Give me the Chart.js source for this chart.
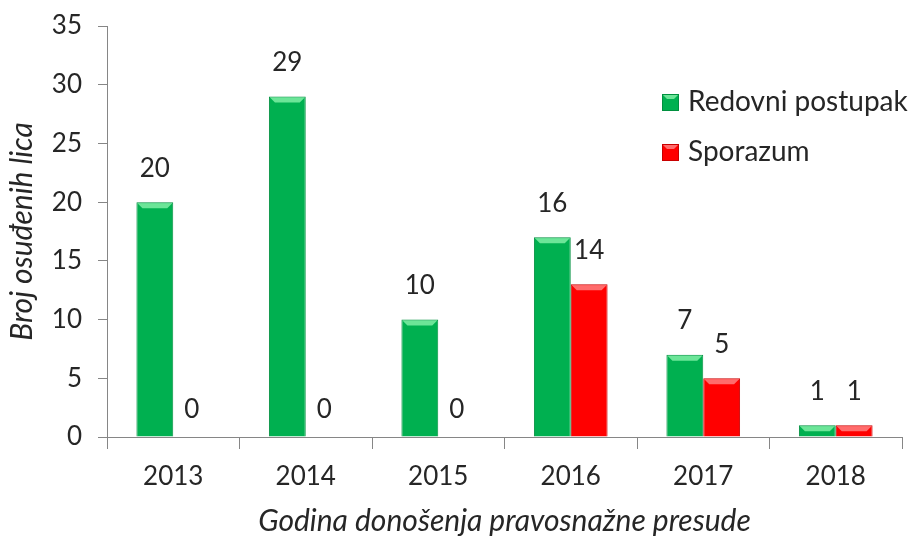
<!DOCTYPE html>
<html>
<head>
<meta charset="utf-8">
<script src="https://cdn.jsdelivr.net/npm/chart.js@4.4.0/dist/chart.umd.min.js"></script>
<style>
  html, body { margin: 0; padding: 0; background: #ffffff; }
  #wrap { width: 916px; height: 539px; position: relative; }
</style>
</head>
<body>
<div id="wrap"><canvas id="c" width="916" height="539"></canvas></div>
<script>
const categories = ['2013', '2014', '2015', '2016', '2017', '2018'];
const seriesNames = ['Redovni postupak', 'Sporazum'];
const redovniValues = [20, 29, 10, 17, 7, 1];
const sporazumValues = [0, 0, 0, 13, 5, 1];
const redovniLabels = ['20', '29', '10', '16', '7', '1'];
const sporazumLabels = ['0', '0', '0', '14', '5', '1'];
const yTicks = [0, 5, 10, 15, 20, 25, 30, 35];
const yTitle = 'Broj osuđenih lica';
const xTitle = 'Godina donošenja pravosnažne presude';

const FONT = 'Lato';
const TEXT = '#262626';
const AXIS = '#868686';
const HIGHLIGHT = ['rgba(120,235,160,0.9)', 'rgba(255,120,120,0.9)'];

const bevelPlugin = {
  id: 'bevel',
  afterDatasetsDraw(chart) {
    const ctx = chart.ctx;
    ctx.save();
    chart.data.datasets.forEach((ds, di) => {
      const meta = chart.getDatasetMeta(di);
      meta.data.forEach((el) => {
        const h = el.base - el.y;
        if (h < 2) return;
        const half = el.width / 2;
        const b = Math.min(5, h / 2);
        ctx.fillStyle = HIGHLIGHT[di];
        ctx.beginPath();
        ctx.moveTo(el.x - half + 1, el.y + 1);
        ctx.lineTo(el.x + half - 1, el.y + 1);
        ctx.lineTo(el.x + half - 1 - b, el.y + 1 + b);
        ctx.lineTo(el.x - half + 1 + b, el.y + 1 + b);
        ctx.closePath();
        ctx.fill();
      });
    });
    ctx.restore();
  }
};

const dataLabelPlugin = {
  id: 'dataLabels',
  afterDatasetsDraw(chart) {
    const ctx = chart.ctx;
    const all = [redovniLabels, sporazumLabels];
    ctx.save();
    ctx.font = '26px ' + FONT;
    ctx.fillStyle = TEXT;
    ctx.textAlign = 'center';
    ctx.textBaseline = 'middle';
    chart.data.datasets.forEach((ds, di) => {
      const meta = chart.getDatasetMeta(di);
      meta.data.forEach((el, i) => {
        const gap = ds.data[i] === 0 ? 27 : 34;
        ctx.fillText(all[di][i], el.x, el.y - gap);
      });
    });
    ctx.restore();
  }
};

const legendPlugin = {
  id: 'customLegend',
  afterDraw(chart) {
    const ctx = chart.ctx;
    const ca = chart.chartArea;
    ctx.save();
    ctx.font = '28px ' + FONT;
    ctx.textAlign = 'left';
    ctx.textBaseline = 'middle';
    chart.data.datasets.forEach((ds, di) => {
      const cy = 102 + di * 50;
      const sx = ca.right - 240;
      ctx.fillStyle = ds.backgroundColor;
      ctx.fillRect(sx, cy - 8, 17, 17);
      ctx.strokeStyle = ds.borderColor;
      ctx.lineWidth = 1;
      ctx.strokeRect(sx + 0.5, cy - 7.5, 16, 16);
      ctx.fillStyle = HIGHLIGHT[di];
      ctx.beginPath();
      ctx.moveTo(sx + 1, cy - 7);
      ctx.lineTo(sx + 16, cy - 7);
      ctx.lineTo(sx + 12, cy - 3);
      ctx.lineTo(sx + 5, cy - 3);
      ctx.closePath();
      ctx.fill();
      ctx.fillStyle = TEXT;
      ctx.fillText(ds.label, sx + 26, cy);
    });
    ctx.restore();
  }
};

new Chart(document.getElementById('c'), {
  type: 'bar',
  data: {
    labels: categories,
    datasets: [
      { label: seriesNames[0], data: redovniValues, backgroundColor: '#00B050', borderColor: '#00903F', borderWidth: 1, borderSkipped: 'bottom' },
      { label: seriesNames[1], data: sporazumValues, backgroundColor: '#FF0000', borderColor: '#C80000', borderWidth: 1, borderSkipped: 'bottom' }
    ]
  },
  options: {
    responsive: false,
    animation: false,
    devicePixelRatio: 1,
    layout: { padding: { top: 26, right: 14, left: 0, bottom: 0 } },
    datasets: { bar: { barPercentage: 1.0, categoryPercentage: 0.556 } },
    plugins: { legend: { display: false }, tooltip: { enabled: false } },
    scales: {
      x: {
        grid: { display: true, drawOnChartArea: false, drawTicks: true, tickLength: 12, color: AXIS, offset: true },
        border: { display: true, color: AXIS, width: 1 },
        ticks: { color: TEXT, font: { family: FONT, size: 26 }, padding: 12 },
        title: { display: true, text: xTitle, color: TEXT, font: { family: FONT, size: 30, style: 'italic' }, padding: { top: 2, bottom: 0 } },
        afterFit(scale) { scale.height = 102; scale.paddingLeft = 0; scale.paddingRight = 0; }
      },
      y: {
        min: 0, max: 35,
        afterBuildTicks(scale) { scale.ticks = yTicks.map(v => ({ value: v })); },
        grid: { display: true, drawOnChartArea: false, drawTicks: true, tickLength: 9, color: AXIS },
        border: { display: true, color: AXIS, width: 1 },
        ticks: { color: TEXT, font: { family: FONT, size: 26 }, padding: 16 },
        title: { display: true, text: yTitle, color: TEXT, font: { family: FONT, size: 30, style: 'italic' }, padding: { top: 4, bottom: 2 } },
        afterFit(scale) { scale.width = 107; scale.paddingTop = 0; scale.paddingBottom = 0; }
      }
    }
  },
  plugins: [bevelPlugin, dataLabelPlugin, legendPlugin]
});
</script>
</body>
</html>
